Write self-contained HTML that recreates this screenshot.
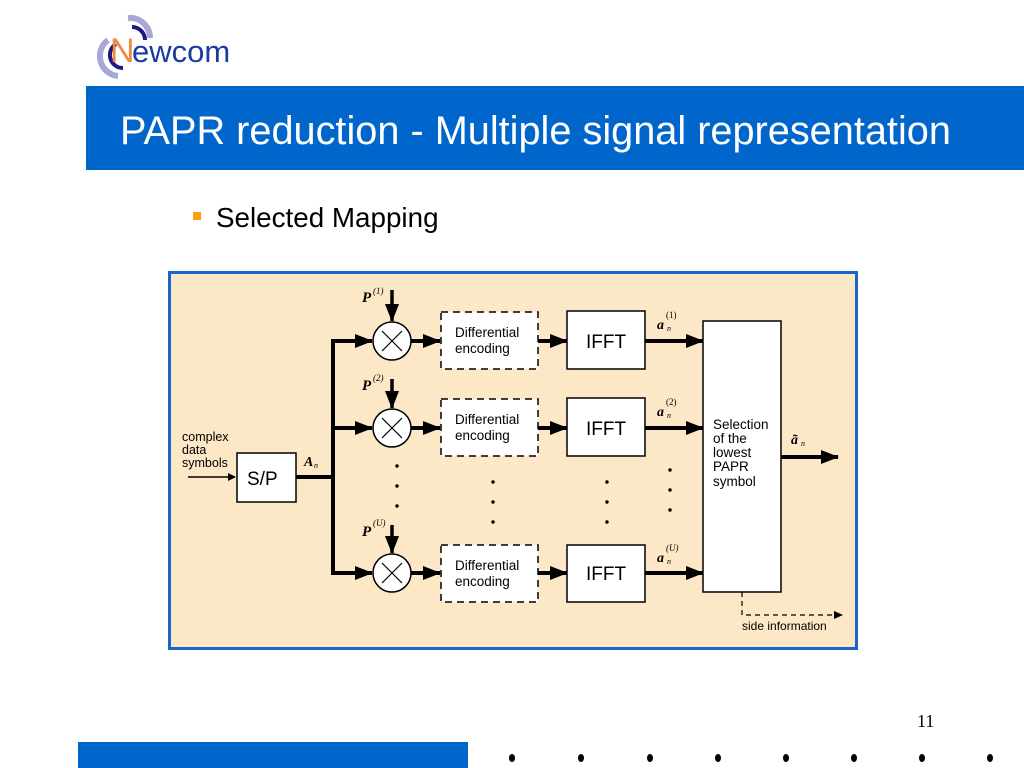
<!DOCTYPE html>
<html><head><meta charset="utf-8"><style>
body{margin:0;width:1024px;height:768px;background:#fff;position:relative;overflow:hidden;font-family:"Liberation Sans",sans-serif}
.a{position:absolute}
</style></head><body>
<svg class="a" style="left:88px;top:8px" width="170" height="75" viewBox="0 0 170 75">
<path d="M20 32 A20 20 0 0 0 30 68" stroke="#a8a8d8" stroke-width="6" fill="none"/>
<path d="M28 36 A13 13 0 0 0 35 60" stroke="#1a1a80" stroke-width="4" fill="none"/>
<path d="M40 10 A20 20 0 0 1 62 30" stroke="#a8a8d8" stroke-width="6" fill="none"/>
<path d="M44 19 A13 13 0 0 1 57 32" stroke="#1a1a80" stroke-width="4" fill="none"/>
<text x="22" y="54" font-size="34" fill="#f08a40" font-family="Liberation Sans">N</text>
<text x="44" y="54" font-size="31" fill="#1a3aa0" font-family="Liberation Sans">ewcom</text>
</svg>
<div class="a" style="left:86px;top:86px;width:938px;height:84px;background:#0066cc"></div>
<div class="a" style="left:120px;top:109px;color:#fff;font-size:39.7px;white-space:nowrap">PAPR reduction - Multiple signal representation</div>
<div class="a" style="left:193px;top:212px;width:8px;height:8px;background:#f7a21b"></div>
<div class="a" style="left:216px;top:202px;font-size:27.8px;color:#000;white-space:nowrap">Selected Mapping</div>
<div class="a" style="left:168px;top:271px;width:684px;height:373px;border:3px solid #1a66c8;background:#fce7c6"></div>
<svg class="a" style="left:0;top:0" width="1024" height="768" font-family="Liberation Sans">
<defs>
<marker id="ah" markerWidth="8" markerHeight="8" refX="7" refY="4" orient="auto" markerUnits="userSpaceOnUse"><path d="M0 0L8 4L0 8z" fill="#000"/></marker>
<marker id="AH" markerWidth="18" markerHeight="14" refX="17" refY="7" orient="auto" markerUnits="userSpaceOnUse"><path d="M0 0L18 7L0 14z" fill="#000"/></marker>
</defs>
<g stroke="#000" fill="none">
<line x1="188" y1="477" x2="235" y2="477" stroke-width="1.5" marker-end="url(#ah)"/>
<rect x="237" y="453" width="59" height="49" fill="#fff" stroke-width="1.5"/>
<line x1="296" y1="477" x2="333" y2="477" stroke-width="4"/>
<line x1="333" y1="339" x2="333" y2="575" stroke-width="4"/>
<line x1="331" y1="341" x2="372" y2="341" stroke-width="4" marker-end="url(#AH)"/>
<line x1="331" y1="428" x2="372" y2="428" stroke-width="4" marker-end="url(#AH)"/>
<line x1="331" y1="573" x2="372" y2="573" stroke-width="4" marker-end="url(#AH)"/>
<g stroke-width="1.5" fill="#fff">
<circle cx="392" cy="341" r="19"/><circle cx="392" cy="428" r="19"/><circle cx="392" cy="573" r="19"/>
</g>
<path d="M382 331l20 20M402 331l-20 20M382 418l20 20M402 418l-20 20M382 563l20 20M402 563l-20 20" stroke-width="1.2"/>
<line x1="392" y1="290" x2="392" y2="321" stroke-width="3.5" marker-end="url(#AH)"/>
<line x1="392" y1="379" x2="392" y2="408" stroke-width="3.5" marker-end="url(#AH)"/>
<line x1="392" y1="525" x2="392" y2="553" stroke-width="3.5" marker-end="url(#AH)"/>
<g stroke-width="4">
<line x1="411" y1="341" x2="440" y2="341" marker-end="url(#AH)"/>
<line x1="411" y1="428" x2="440" y2="428" marker-end="url(#AH)"/>
<line x1="411" y1="573" x2="440" y2="573" marker-end="url(#AH)"/>
<line x1="538" y1="341" x2="567" y2="341" marker-end="url(#AH)"/>
<line x1="538" y1="428" x2="567" y2="428" marker-end="url(#AH)"/>
<line x1="538" y1="573" x2="567" y2="573" marker-end="url(#AH)"/>
<line x1="645" y1="341" x2="703" y2="341" marker-end="url(#AH)"/>
<line x1="645" y1="428" x2="703" y2="428" marker-end="url(#AH)"/>
<line x1="645" y1="573" x2="703" y2="573" marker-end="url(#AH)"/>
<line x1="781" y1="457" x2="838" y2="457" marker-end="url(#AH)"/>
</g>
<g stroke-width="1.5" stroke-dasharray="7,5" fill="#fff">
<rect x="441" y="312" width="97" height="57"/><rect x="441" y="399" width="97" height="57"/><rect x="441" y="545" width="97" height="57"/>
</g>
<g stroke-width="1.5" fill="#fff">
<rect x="567" y="311" width="78" height="58"/><rect x="567" y="398" width="78" height="58"/><rect x="567" y="545" width="78" height="57"/>
<rect x="703" y="321" width="78" height="271"/>
</g>
<path d="M742 592V615H836" stroke-width="1.2" stroke-dasharray="5,4"/>
</g>
<path d="M834 611L843 615L834 619z"/>
<g fill="#000">
<circle cx="397" cy="466" r="1.7"/><circle cx="397" cy="486" r="1.7"/><circle cx="397" cy="506" r="1.7"/>
<circle cx="493" cy="482" r="1.7"/><circle cx="493" cy="502" r="1.7"/><circle cx="493" cy="522" r="1.7"/>
<circle cx="607" cy="482" r="1.7"/><circle cx="607" cy="502" r="1.7"/><circle cx="607" cy="522" r="1.7"/>
<circle cx="670" cy="470" r="1.7"/><circle cx="670" cy="490" r="1.7"/><circle cx="670" cy="510" r="1.7"/>
</g>
<g font-size="13.5" fill="#000">
<text x="182" y="441" font-size="12.5">complex</text><text x="182" y="454" font-size="12.5">data</text><text x="182" y="467" font-size="12.5">symbols</text>
<text x="455" y="337">Differential</text><text x="455" y="353">encoding</text>
<text x="455" y="424">Differential</text><text x="455" y="440">encoding</text>
<text x="455" y="570">Differential</text><text x="455" y="586">encoding</text>
<text x="713" y="429">Selection</text><text x="713" y="443">of the</text><text x="713" y="457">lowest</text><text x="713" y="471">PAPR</text><text x="713" y="486">symbol</text>
<text x="742" y="630" font-size="12">side information</text>
</g>
<g font-size="19" fill="#000">
<text x="247" y="485">S/P</text>
<text x="586" y="348">IFFT</text><text x="586" y="435">IFFT</text><text x="586" y="580">IFFT</text>
</g>
<g font-family="Liberation Serif" font-weight="bold" font-style="italic" fill="#000">
<text x="362" y="302" font-size="15">P</text><text x="373" y="294" font-size="9" font-weight="normal">(1)</text>
<text x="362" y="390" font-size="15">P</text><text x="373" y="381" font-size="9" font-weight="normal">(2)</text>
<text x="362" y="536" font-size="15">P</text><text x="373" y="526" font-size="9" font-weight="normal">(U)</text>
<text x="304" y="466" font-size="14">A</text><text x="314" y="468" font-size="8" font-weight="normal">n</text>
<text x="657" y="329" font-size="14">a</text><text x="667" y="331" font-size="8" font-weight="normal">n</text><text x="666" y="318" font-size="9" font-weight="normal" font-style="normal">(1)</text>
<text x="657" y="416" font-size="14">a</text><text x="667" y="418" font-size="8" font-weight="normal">n</text><text x="666" y="405" font-size="9" font-weight="normal" font-style="normal">(2)</text>
<text x="657" y="562" font-size="14">a</text><text x="667" y="564" font-size="8" font-weight="normal">n</text><text x="666" y="551" font-size="9" font-weight="normal">(U)</text>
<text x="791" y="444" font-size="14">ã</text><text x="801" y="446" font-size="8" font-weight="normal">n</text>
</g>
<text x="917" y="727" font-family="Liberation Serif" font-size="18">11</text>
<rect x="78" y="742" width="390" height="26" fill="#0066cc"/>
<g fill="#000">
<ellipse cx="512" cy="758" rx="3" ry="4"/><ellipse cx="581" cy="758" rx="3" ry="4"/><ellipse cx="650" cy="758" rx="3" ry="4"/><ellipse cx="718" cy="758" rx="3" ry="4"/><ellipse cx="786" cy="758" rx="3" ry="4"/><ellipse cx="854" cy="758" rx="3" ry="4"/><ellipse cx="922" cy="758" rx="3" ry="4"/><ellipse cx="990" cy="758" rx="3" ry="4"/>
</g>
</svg>
</body></html>
